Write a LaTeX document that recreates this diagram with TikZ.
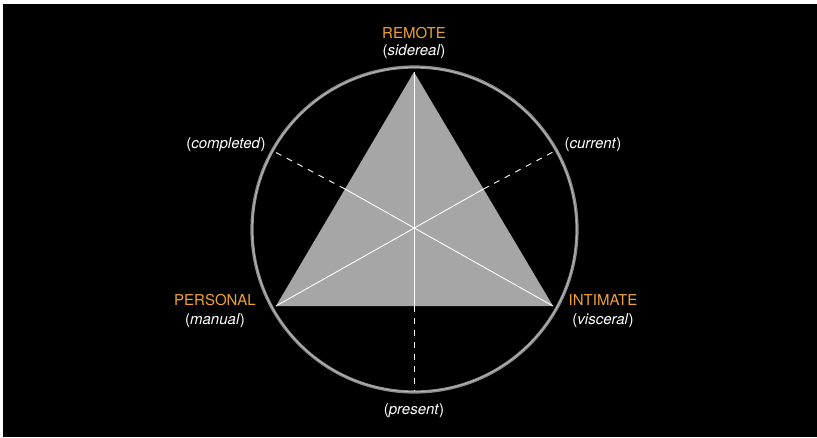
\documentclass[tikz,border=0pt]{standalone}
\usepackage{fontspec}
\setmainfont{TeX Gyre Heros}
\definecolor{accent}{RGB}{240,162,52}
\definecolor{trifill}{RGB}{166,166,166}
\definecolor{ringgray}{RGB}{140,140,140}
\definecolor{ringlight}{RGB}{190,190,190}
\begin{document}
\begin{tikzpicture}[x={(1pt,0)},y={(0,-1pt)},
  lbl/.style={font=\fontsize{15}{17}\selectfont, inner sep=0pt, text=white},
  head/.style={font=\fontsize{15}{17}\selectfont, inner sep=0pt, text=accent},
  median/.style={draw=white, line width=0.9pt},
  dashline/.style={draw=white, line width=0.9pt, dash pattern=on 6pt off 6pt}]
\useasboundingbox (0,0) rectangle (817,437);
\fill[white] (0,0) rectangle (817,437);
\fill[black] (3,4) rectangle (817,437);
% circle
\coordinate (C) at (414.5,229.5);
\draw[ringgray, line width=3.2pt] (C) circle[radius=162.5];
\draw[ringlight, line width=0.7pt] (C) circle[radius=162.2];
% triangle
\coordinate (T) at (414,72);
\coordinate (L) at (276,306);
\coordinate (R) at (553,306);
\coordinate (O) at (414,230);
\fill[trifill] (T) -- (L) -- (R) -- cycle;
\coordinate (mLR) at (414,306);
\coordinate (mTR) at (483.5,189);
\coordinate (mTL) at (345,189);
\coordinate (eBot) at (414,391);
\coordinate (eCur) at (553,152);
\coordinate (eComp) at (275,152);
\draw[median] (T) -- (mLR);
\draw[median] (L) -- (mTR);
\draw[median] (R) -- (mTL);
\draw[dashline] (mLR) -- (eBot);
\draw[dashline] (mTR) -- (eCur);
\draw[dashline] (mTL) -- (eComp);
% labels
\node[head] (remote) at (414,33) {REMOTE};
\node[lbl] (sidereal) at (414,52) {(\textit{sidereal})};
\node[lbl] (completed) at (226,145) {(\textit{completed})};
\node[lbl] (current) at (593,145) {(\textit{current})};
\node[head] (personal) at (215,300) {PERSONAL};
\node[lbl] (manual) at (215,321) {(\textit{manual})};
\node[head] (intimate) at (603,300) {INTIMATE};
\node[lbl] (visceral) at (603,321) {(\textit{visceral})};
\node[lbl] (present) at (414,411) {(\textit{present})};
\end{tikzpicture}
\end{document}
